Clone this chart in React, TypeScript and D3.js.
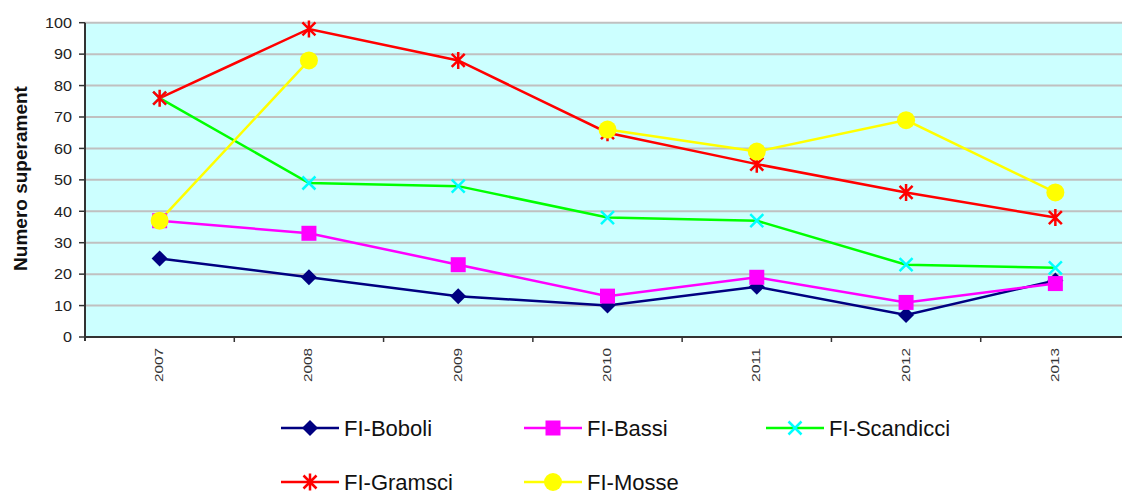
import React from "react";
import * as d3 from "d3";

const years = ["2007", "2008", "2009", "2010", "2011", "2012", "2013"];
const boboli = [25, 19, 13, 10, 16, 7, 18];
const bassi = [37, 33, 23, 13, 19, 11, 17];
const scandicci = [76, 49, 48, 38, 37, 23, 22];
const gramsci = [76, 98, 88, 65, 55, 46, 38];
const mosse: (number | null)[] = [37, 88, null, 66, 59, 69, 46];
const yTicks = [0, 10, 20, 30, 40, 50, 60, 70, 80, 90, 100];

type Marker = "diamond" | "square" | "x" | "star" | "circle";
const series: { name: string; values: (number | null)[]; line: string; mark: string; marker: Marker }[] = [
  { name: "FI-Boboli", values: boboli, line: "#000080", mark: "#000080", marker: "diamond" },
  { name: "FI-Bassi", values: bassi, line: "#ff00ff", mark: "#ff00ff", marker: "square" },
  { name: "FI-Scandicci", values: scandicci, line: "#00ff00", mark: "#00ffff", marker: "x" },
  { name: "FI-Gramsci", values: gramsci, line: "#ff0000", mark: "#ff0000", marker: "star" },
  { name: "FI-Mosse", values: mosse, line: "#ffff00", mark: "#ffff00", marker: "circle" },
];

const W = 1122;
const H = 494;
const left = 85;
const right = 1130;
const top = 22.7;
const bottom = 337;

function MarkerShape({ kind, x, y, color }: { kind: Marker; x: number; y: number; color: string }) {
  switch (kind) {
    case "diamond":
      return <path d={`M${x},${y - 8}L${x + 8},${y}L${x},${y + 8}L${x - 8},${y}Z`} fill={color} />;
    case "square":
      return <rect x={x - 7.5} y={y - 7.5} width={15} height={15} fill={color} />;
    case "circle":
      return <circle cx={x} cy={y} r={9} fill={color} />;
    case "x":
      return (
        <path
          d={`M${x - 6.5},${y - 6.5}L${x + 6.5},${y + 6.5}M${x - 6.5},${y + 6.5}L${x + 6.5},${y - 6.5}`}
          stroke={color}
          strokeWidth={2.5}
        />
      );
    case "star":
      return (
        <path
          d={`M${x - 6.5},${y - 6.5}L${x + 6.5},${y + 6.5}M${x - 6.5},${y + 6.5}L${x + 6.5},${y - 6.5}M${x},${y - 8.5}L${x},${y + 8.5}`}
          stroke={color}
          strokeWidth={2.5}
        />
      );
  }
}

export default function App() {
  const x = d3.scaleBand<string>().domain(years).range([left, right]);
  const y = d3.scaleLinear().domain([0, 100]).range([bottom, top]);
  const cx = (yr: string) => (x(yr) as number) + x.bandwidth() / 2;

  const lineGen = d3
    .line<number | null>()
    .defined((d) => d !== null)
    .x((_, i) => cx(years[i]))
    .y((d) => y(d as number));

  const boundaries = years.slice(1).map((yr) => x(yr) as number);

  const legendRows = [
    { y: 428, items: [series[0], series[1], series[2]] },
    { y: 482, items: [series[3], series[4]] },
  ];
  const legendX = [281, 524, 766];

  return (
    <svg
      width={W}
      height={H}
      style={{ position: "absolute", left: 0, top: 0, background: "#fff" }}
      fontFamily="'Liberation Sans', Arial, sans-serif"
    >
      <defs>
        <clipPath id="plotClip">
          <rect x={left} y={0} width={W - left} height={bottom + 1} />
        </clipPath>
      </defs>
      <rect x={left} y={top} width={right - left} height={bottom - top} fill="#ccffff" />
      {yTicks.filter((t) => t > 0).map((t) => (
        <line key={t} x1={left} x2={right} y1={y(t)} y2={y(t)} stroke="#c0c0c0" strokeWidth={2} />
      ))}

      {/* axes */}
      <line x1={left} x2={left} y1={top} y2={bottom + 4} stroke="#333" strokeWidth={2} />
      <line x1={left - 1} x2={right} y1={bottom} y2={bottom} stroke="#333" strokeWidth={2} />
      {yTicks.map((t) => {
        const label = String(t);
        return (
          <g key={t}>
            <line x1={left - 6} x2={left} y1={y(t)} y2={y(t)} stroke="#333" strokeWidth={1.5} />
            <text
              x={left - 13 - label.length * 9}
              y={y(t)}
              dy="0.36em"
              fontSize={14.5}
              fill="#222"
              textLength={label.length * 9}
              lengthAdjust="spacingAndGlyphs"
            >
              {label}
            </text>
          </g>
        );
      })}
      {boundaries.map((b, i) => (
        <line key={i} x1={b} x2={b} y1={bottom} y2={bottom + 5} stroke="#333" strokeWidth={1.5} />
      ))}
      {years.map((yr) => (
        <text
          key={yr}
          transform={`translate(${cx(yr) + 3.5},${bottom + 45}) rotate(-90)`}
          fontSize={11}
          fill="#333"
          textLength={34}
          lengthAdjust="spacingAndGlyphs"
        >
          {yr}
        </text>
      ))}
      <text
        transform="translate(27,178.5) rotate(-90)"
        textAnchor="middle"
        fontSize={19}
        fontWeight="bold"
        fill="#111"
      >
        Numero superament
      </text>

      <g clipPath="url(#plotClip)">
        {series.map((s) => (
          <path key={s.name} d={lineGen(s.values) || ""} fill="none" stroke={s.line} strokeWidth={2.5} />
        ))}
        {series.map((s) => (
          <g key={s.name}>
            {s.values.map((v, i) =>
              v === null ? null : <MarkerShape key={i} kind={s.marker} x={cx(years[i])} y={y(v)} color={s.mark} />
            )}
          </g>
        ))}
      </g>

      {legendRows.map((row) =>
        row.items.map((s, j) => {
          const lx = legendX[j];
          return (
            <g key={s.name}>
              <line x1={lx} x2={lx + 58} y1={row.y} y2={row.y} stroke={s.line} strokeWidth={2.5} />
              <MarkerShape kind={s.marker} x={lx + 29} y={row.y} color={s.mark} />
              <text x={lx + 63} y={row.y} dy="0.36em" fontSize={22} fill="#111">
                {s.name}
              </text>
            </g>
          );
        })
      )}
    </svg>
  );
}
